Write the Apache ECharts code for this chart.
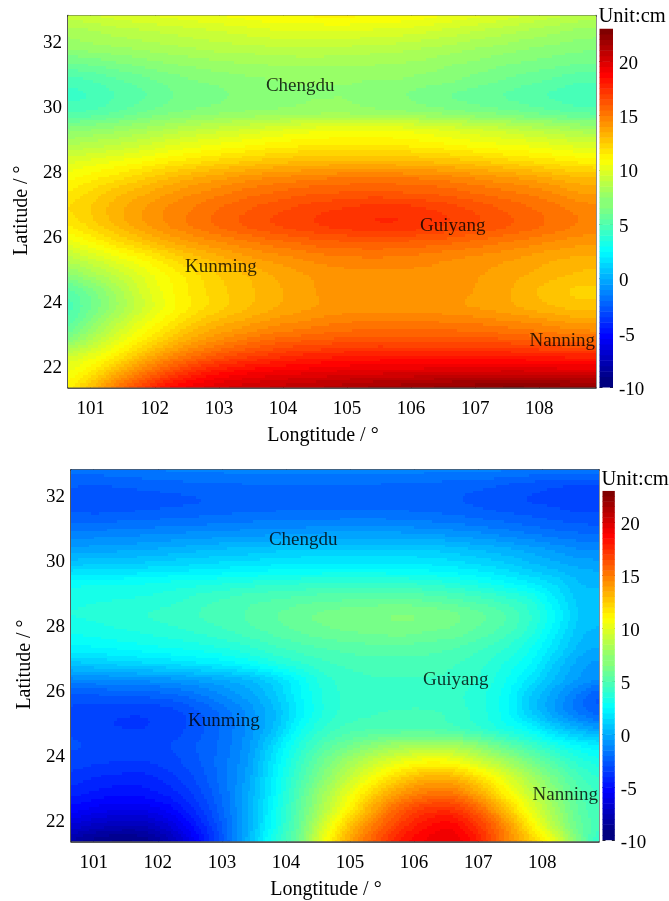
<!DOCTYPE html>
<html>
<head>
<meta charset="utf-8">
<style>html,body{margin:0;padding:0;background:#fff}#c{width:669px;height:901px}</style>
<script src="https://cdn.jsdelivr.net/npm/echarts@6/dist/echarts.min.js"></script>
</head>
<body>
<div id="c"></div>
<script>
// Sampling nodes of the two maps
const lonNodes = [100.6,101,101.4,101.8,102.2,102.6,103,103.4,103.8,104.2,104.6,105,105.4,105.8,106.2,106.6,107,107.4,107.8,108.2,108.6,109];
const latNodes = [32.8,32.3,31.8,31.3,30.8,30.3,29.8,29.3,28.8,28.3,27.8,27.3,26.8,26.3,25.8,25.3,24.8,24.3,23.8,23.3,22.8,22.3,21.8,21.3];
const upperValues = [
[8.8,9,9.3,9.5,9.7,9.9,10.1,10.3,10.5,10.6,10.7,10.7,10.6,10.5,10.3,10,9.7,9.4,9,8.7,8.4,8.3],
[7.8,8,8.3,8.5,8.7,8.9,9.1,9.3,9.5,9.6,9.6,9.6,9.5,9.4,9.2,8.9,8.6,8.3,8,7.7,7.4,7.3],
[7.1,7.3,7.5,7.7,7.9,8.1,8.3,8.4,8.5,8.6,8.6,8.5,8.4,8.3,8.1,7.9,7.6,7.4,7.1,6.9,6.7,6.6],
[5.9,6.1,6.4,6.7,7,7.2,7.4,7.5,7.6,7.7,7.7,7.7,7.6,7.5,7.4,7.1,6.9,6.6,6.4,6.2,6,5.9],
[4.7,5,5.4,5.8,6.2,6.5,6.7,6.9,7,7.1,7.1,7.1,7,7,6.8,6.6,6.3,6,5.7,5.4,5.1,5],
[4.3,4.5,5,5.4,5.9,6.2,6.4,6.7,6.9,7,7,7,6.9,6.6,6.3,6,5.8,5.5,5.2,4.9,4.6,4.5],
[4.9,5.1,5.5,6,6.4,6.7,6.9,7.1,7.2,7.3,7.4,7.4,7.3,7.2,7,6.8,6.5,6.3,6,5.7,5.4,5.3],
[6.6,6.9,7.2,7.6,8,8.4,8.7,9,9.3,9.6,9.8,9.9,9.9,9.8,9.6,9.3,9,8.7,8.3,8,7.6,7.5],
[8,8.3,8.6,9,9.5,9.9,10.2,10.5,10.8,11,11.1,11.2,11.2,11.1,10.9,10.7,10.4,10.2,10,9.7,9.4,9.3],
[9.4,9.7,10.1,10.5,11,11.4,11.8,12.1,12.4,12.6,12.7,12.8,12.8,12.7,12.6,12.4,12.2,11.9,11.6,11.3,11,10.9],
[10.4,10.9,11.4,12,12.6,13.1,13.5,13.9,14.2,14.4,14.6,14.7,14.7,14.7,14.6,14.4,14.1,13.8,13.5,13.1,12.7,12.6],
[11.2,11.8,12.5,13.1,13.7,14.2,14.6,15,15.3,15.6,15.8,15.9,16,15.9,15.8,15.6,15.3,15,14.7,14.3,13.8,13.7],
[11.6,12.2,13,13.7,14.3,14.8,15.3,15.7,16.1,16.4,16.7,16.9,17.1,17.1,16.9,16.6,16.2,15.8,15.4,15,14.6,14.4],
[11,11.8,12.7,13.5,14.2,14.8,15.3,15.8,16.2,16.5,16.8,17,17.2,17.2,17,16.7,16.3,15.9,15.5,15.1,14.7,14.5],
[9.8,10.6,11.5,12.3,13.1,13.7,14.2,14.6,15,15.3,15.6,15.7,15.8,15.7,15.6,15.4,15.1,14.8,14.5,14.2,13.9,13.8],
[8.3,9,9.9,10.7,11.6,12.4,13,13.5,13.9,14.2,14.5,14.6,14.7,14.6,14.5,14.3,14.1,13.9,13.6,13.3,13.1,13],
[6.8,7.7,8.7,9.7,10.7,11.5,12.2,12.7,13.2,13.6,13.9,14.1,14.1,14.1,14.1,14,13.8,13.5,13.2,12.9,12.6,12.5],
[5.2,6.3,7.7,9.2,10.4,11.3,12,12.5,13,13.4,13.8,14,14,14,14,13.9,13.7,13.4,12.9,12.4,12.1,12.1],
[4.7,6,7.5,9,10.3,11.3,12,12.6,13.1,13.5,13.8,14,14,14,14,13.9,13.7,13.5,13.1,12.8,12.5,12.5],
[5.2,6.8,8.4,9.9,11.1,12.2,13,13.5,14,14.3,14.6,14.8,14.9,14.9,14.9,14.8,14.7,14.5,14.3,14,13.7,13.6],
[6.5,8,9.6,11,12.3,13.4,14.2,14.8,15.3,15.6,15.8,16,16.1,16.1,16.1,16.1,16,15.9,15.7,15.5,15.3,15.2],
[8.9,9.8,11.1,12.7,14.1,15.2,16,16.6,17,17.4,17.6,17.8,17.9,17.9,17.9,17.9,17.9,17.9,17.8,17.7,17.6,17.5],
[10,11.2,13,14.7,16.2,17.4,18.2,18.7,19,19.2,19.4,19.6,19.7,19.8,19.9,20,20,20.1,20.1,20,19.9,19.9],
[10.8,12.6,14.8,16.7,18.3,19.2,19.8,20.2,20.5,20.8,21,21.3,21.6,21.8,22,22.2,22.4,22.6,22.6,22.5,22.2,22.2]
];
const lowerValues = [
[-2,-2,-1.9,-1.8,-1.7,-1.7,-1.6,-1.6,-1.6,-1.5,-1.5,-1.5,-1.5,-1.5,-1.6,-1.6,-1.6,-1.7,-1.8,-1.9,-2,-2],
[-2.7,-2.8,-2.7,-2.6,-2.5,-2.4,-2.4,-2.3,-2.3,-2.3,-2.3,-2.3,-2.3,-2.4,-2.4,-2.5,-2.6,-2.8,-3,-3.2,-3.3,-3.3],
[-3,-3.1,-3.1,-3,-2.9,-2.8,-2.7,-2.6,-2.6,-2.5,-2.5,-2.5,-2.5,-2.5,-2.6,-2.7,-2.9,-3.1,-3.3,-3.4,-3.6,-3.6],
[-2.5,-2.6,-2.5,-2.4,-2.3,-2.2,-2.1,-2,-1.9,-1.9,-1.9,-1.8,-1.8,-1.9,-2,-2.1,-2.3,-2.5,-2.7,-2.9,-3.1,-3.1],
[-1.5,-1.5,-1.4,-1.3,-1.2,-1.1,-1,-0.9,-0.8,-0.7,-0.6,-0.6,-0.6,-0.6,-0.7,-0.9,-1.1,-1.4,-1.7,-2,-2.2,-2.3],
[-0.5,-0.4,-0.3,-0.2,0,0.2,0.4,0.5,0.7,0.8,0.9,0.9,0.9,0.9,0.8,0.6,0.3,0,-0.4,-0.8,-1.2,-1.3],
[0.9,1,1.1,1.2,1.4,1.5,1.7,1.8,2,2.1,2.2,2.2,2.2,2.1,2,1.8,1.5,1.1,0.6,0.1,-0.3,-0.4],
[2.6,2.7,2.7,2.8,3,3.1,3.3,3.5,3.7,3.8,3.9,4,4,3.9,3.7,3.4,3,2.5,1.9,1.2,0.3,0.2],
[3.2,3.3,3.4,3.5,3.7,4.1,4.4,4.7,4.9,5.1,5.3,5.4,5.5,5.5,5.3,5,4.6,4.1,3.4,1.9,0.6,0.4],
[3.4,3.5,3.7,3.9,4.1,4.4,4.7,5,5.4,5.8,6.1,6.3,6.4,6.5,6.4,6.1,5.6,5,4,2.4,0.7,0.4],
[3,3.1,3.3,3.5,3.7,4,4.3,4.7,5.1,5.5,5.8,6,6.1,6.2,6,5.8,5.3,4.7,3.7,2,0.5,0.2],
[2.2,2.3,2.5,2.7,2.9,3.1,3.4,3.8,4.3,4.7,5,5.2,5.3,5.3,5.2,5,4.6,4,3,1.5,0.1,-0.3],
[0.6,0.8,1,1.2,1.4,1.7,2,2.5,3.2,3.8,4.3,4.6,4.7,4.7,4.7,4.5,4.1,3.4,2.4,0.8,-0.5,-0.9],
[-1.4,-1.3,-1.2,-1.1,-0.9,-0.6,-0.2,0.3,1.2,2.5,3.7,4.2,4.4,4.4,4.4,4.3,3.9,3,1.7,0.2,-0.9,-1.4],
[-2.9,-2.9,-2.8,-2.7,-2.5,-2,-1.3,-0.5,0.6,2.2,3.5,4.1,4.3,4.3,4.3,4.1,3.6,2.7,0.9,-0.6,-2,-3],
[-3.4,-3.6,-3.7,-3.7,-3.5,-2.9,-2.1,-1.1,0.2,2,3.5,4.2,4.4,4.5,4.5,4.3,3.7,2.7,1,-0.6,-1.9,-2.6],
[-3.4,-3.7,-3.8,-3.8,-3.6,-3,-2.2,-1.1,0.4,2.6,4,4.7,4.9,5,5,4.7,4.1,3.3,2.4,1,-0.1,-0.8],
[-3.2,-3.4,-3.5,-3.5,-3.3,-2.8,-2.1,-0.9,1.2,3.4,5,6,6.8,7.4,7.7,7.5,6.7,5.5,4.4,3.2,2.2,1.8],
[-3.5,-3.7,-3.8,-3.8,-3.5,-2.9,-2,-0.7,1.7,4,6,7.5,8.8,9.8,10.4,10.2,9,7.7,6.2,4.8,3.6,3],
[-4,-4.3,-4.5,-4.5,-4,-3.2,-2,-0.5,2,4.5,6.7,8.7,10.5,12,12.9,12.8,11.5,9.7,7.8,6,4.5,3.8],
[-4.6,-5,-5.2,-5.1,-4.6,-3.6,-2.2,-0.3,2.2,5,7.6,10,12.2,13.9,14.9,14.9,13.4,11.1,8.8,6.8,5,4.2],
[-5.6,-6.1,-6.4,-6.3,-5.6,-4.2,-2.4,-0.2,2.5,5.3,8.2,11,13.7,15.8,17,17.1,15.5,12.8,10,7.5,5.3,4.4],
[-7,-7.6,-8,-7.9,-6.8,-5,-2.8,-0.2,2.7,5.6,9.3,12.5,15,17,18.3,18.6,17,14.4,11.2,8.2,5.6,4.4],
[-8.6,-9.3,-9.6,-9.3,-8,-5.8,-3,0,3.3,6,10.2,13.5,16,18,19,19.3,17.8,14.9,12.5,9.8,6,3.3]
];
const colorLevels = [-10,-9.5,-9,-8.5,-8,-7.5,-7,-6.5,-6,-5.5,-5,-4.5,-4,-3.5,-3,-2.5,-2,-1.5,-1,-0.5,0,0.5,1,1.5,2,2.5,3,3.5,4,4.5,5,5.5,6,6.5,7,7.5,8,8.5,9,9.5,10,10.5,11,11.5,12,12.5,13,13.5,14,14.5,15,15.5,16,16.5,17,17.5,18,18.5,19,19.5,20,20.5,21,21.5,22,22.5];
const lonTicks = [101,102,103,104,105,106,107,108];
const latTicks = [22,24,26,28,30,32];
const colorTicks = [-10,-5,0,5,10,15,20];
const cities = [['Chengdu',104.27,30.6],['Guiyang',106.65,26.3],['Kunming',103.03,25.05],['Nanning',108.36,22.77]];

const FONT = 'Liberation Serif';
const LON_MIN = 100.645, LON_MAX = 108.886, LAT_MIN = 21.33, LAT_MAX = 32.78;
const VMIN = -10, VMAX = 23;
const clamp = v => Math.max(0, Math.min(1, v));
function jet(v) {
  const t = Math.min(63, Math.max(0, Math.floor((v - VMIN) / (VMAX - VMIN) * 64))) / 63;
  const c = k => Math.round(255 * clamp(1.5 - Math.abs(4 * t - k)));
  return 'rgb(' + c(3) + ',' + c(2) + ',' + c(1) + ')';
}
function cells(rows) {
  const out = [];
  for (let j = 0; j < latNodes.length - 1; j++) {
    for (let i = 0; i < lonNodes.length - 1; i++) {
      out.push([lonNodes[i], latNodes[j], rows[j][i], i, j]);
    }
  }
  return out;
}
const SX = 10, SY = 6;
const spline = (a, b, c, d, t) => b + .5 * t * (c - a + t * (2 * a - 5 * b + 4 * c - d + t * (3 * (b - c) + d - a)));
function shade(rows, i, j, fx, fy) {
  const nc = lonNodes.length - 1, nr = latNodes.length - 1;
  const rowAt = r => {
    const row = rows[Math.max(0, Math.min(nr, r))];
    const at = q => row[Math.max(0, Math.min(nc, q))];
    return spline(at(i - 1), at(i), at(i + 1), at(i + 2), fx);
  };
  return spline(rowAt(j - 1), rowAt(j), rowAt(j + 1), rowAt(j + 2), fy);
}
const renderCell = rows => (params, api) => {
  const i = api.value(3), j = api.value(4);
  const lon0 = lonNodes[i], lat0 = latNodes[j], lon1 = lonNodes[i + 1], lat1 = latNodes[j + 1];
  const children = [];
  for (let sy = 0; sy < SY; sy++) {
    for (let sx = 0; sx < SX; sx++) {
      const v = shade(rows, i, j, (sx + .5) / SX, (sy + .5) / SY);
      const p0 = api.coord([lon0 + (lon1 - lon0) * sx / SX, lat0 + (lat1 - lat0) * sy / SY]);
      const p1 = api.coord([lon0 + (lon1 - lon0) * (sx + 1) / SX, lat0 + (lat1 - lat0) * (sy + 1) / SY]);
      const x0 = Math.round(p0[0]), x1 = Math.round(p1[0]), y0 = Math.round(p0[1]), y1 = Math.round(p1[1]);
      if (x1 > x0 && y1 > y0) children.push({type: 'rect', silent: true, shape: {x: x0, y: y0, width: x1 - x0, height: y1 - y0}, style: {fill: jet(v)}});
    }
  }
  return {type: 'group', children};
};
function renderLevel(params, api) {
  const v = api.value(1);
  const p0 = api.coord([0, v]), p1 = api.coord([1, Math.min(VMAX, v + 0.5)]);
  return {type: 'rect', silent: true, shape: {x: p0[0], y: p1[1], width: p1[0] - p0[0], height: p0[1] - p1[1] + 0.5}, style: {fill: jet(v + 0.01)}};
}
const txt = {fontFamily: FONT, fontSize: 19, color: '#000'};
const nameTxt = {fontFamily: FONT, fontSize: 20, color: '#000', padding: [0, 18, 0, 0]};
const LINE = {show: true, onZero: false, lineStyle: {color: '#222', width: 1.5}};
const tick = (vals, len) => ({show: true, inside: true, length: len || 4, lineStyle: {color: '#222', width: 1}, customValues: vals});
const label = (vals, margin) => ({show: true, margin, ...txt, customValues: vals});
const lowered = (vals, margin) => ({show: true, margin, customValues: vals, formatter: v => '{t|' + v + '}',
  rich: {t: {...txt, padding: [5, 0, 0, 0]}}});

const mapGeo = [{left: 68, top: 15.5, width: 528, height: 372}, {left: 71, top: 469.7, width: 528, height: 371.6}];
const barGeo = [{left: 599.5, top: 28.5, width: 13.5, height: 359}, {left: 602.5, top: 490.7, width: 13, height: 349.5}];
const option = {animation: false, backgroundColor: '#fff', grid: [], xAxis: [], yAxis: [], series: []};
[upperValues, lowerValues].forEach((rows, k) => {
  const gMap = option.grid.length;
  option.grid.push({...mapGeo[k], containLabel: false});
  const gBar = option.grid.length;
  option.grid.push({...barGeo[k], containLabel: false});
  const xi = option.xAxis.length, yi = option.yAxis.length;
  option.xAxis.push(
    {type: 'value', gridIndex: gMap, position: 'bottom', min: LON_MIN, max: LON_MAX, axisLine: LINE, axisTick: tick(lonTicks), axisLabel: label(lonTicks, 12), splitLine: {show: false},
     name: 'Longtitude / \u00b0', nameLocation: 'middle', nameGap: 38, nameTextStyle: nameTxt},
    {type: 'value', gridIndex: gMap, position: 'top', min: LON_MIN, max: LON_MAX, axisLine: LINE, axisTick: tick(lonTicks), axisLabel: {show: false}, splitLine: {show: false}},
    {type: 'value', gridIndex: gBar, min: 0, max: 1, show: false}
  );
  option.yAxis.push(
    {type: 'value', gridIndex: gMap, position: 'left', min: LAT_MIN, max: LAT_MAX, axisLine: LINE, axisTick: tick(latTicks), axisLabel: lowered(latTicks, 6), splitLine: {show: false},
     name: 'Latitude / \u00b0', nameLocation: 'middle', nameGap: 36, nameRotate: 90, nameTextStyle: nameTxt},
    {type: 'value', gridIndex: gMap, position: 'right', min: LAT_MIN, max: LAT_MAX, axisLine: {...LINE, lineStyle: {color: '#666', width: 1.5}}, axisTick: tick(latTicks), axisLabel: {show: false}, splitLine: {show: false}},
    {type: 'value', gridIndex: gBar, position: 'left', min: VMIN, max: VMAX, axisLine: {show: false}, axisTick: tick(colorTicks, 3), axisLabel: {show: false}, splitLine: {show: false},
     name: 'Unit:cm', nameLocation: 'end', nameGap: 1, nameTextStyle: {fontFamily: FONT, fontSize: 20.5, color: '#000', align: 'left', padding: [0, 0, 0, -1]}},
    {type: 'value', gridIndex: gBar, position: 'right', min: VMIN, max: VMAX, axisLine: {show: false}, axisTick: tick(colorTicks, 3), axisLabel: lowered(colorTicks, 6), splitLine: {show: false}}
  );
  option.series.push(
    {type: 'custom', xAxisIndex: xi, yAxisIndex: yi, coordinateSystem: 'cartesian2d', clip: true, progressive: 0, silent: true, encode: {x: 0, y: 1}, data: cells(rows), renderItem: renderCell(rows)},
    {type: 'custom', xAxisIndex: xi + 2, yAxisIndex: yi + 2, coordinateSystem: 'cartesian2d', clip: true, progressive: 0, silent: true, encode: {x: 0, y: 1}, data: colorLevels.map(v => [0, v]), renderItem: renderLevel},
    {type: 'scatter', xAxisIndex: xi, yAxisIndex: yi, symbolSize: 0, z: 10, silent: true, itemStyle: {color: 'transparent'},
     data: cities.map(c => ({name: c[0], value: [c[1], c[2]]})),
     label: {show: true, position: 'inside', formatter: '{b}', fontFamily: FONT, fontSize: 19, color: '#000'}}
  );
});
const chart = echarts.init(document.getElementById('c'), null, {renderer: 'canvas'});
chart.setOption(option);
</script>
</body>
</html>
